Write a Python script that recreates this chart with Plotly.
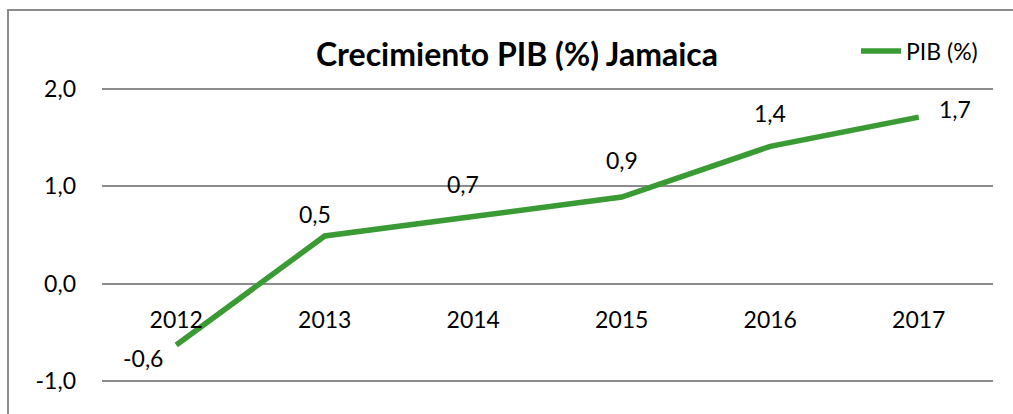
import plotly.graph_objects as go

years = ["2012", "2013", "2014", "2015", "2016", "2017"]
pib = [-0.63, 0.49, 0.69, 0.89, 1.41, 1.71]
labels = ["-0,6", "0,5", "0,7", "0,9", "1,4", "1,7"]
y_ticks = [-1, 0, 1, 2]
y_tick_text = ["-1,0", "0,0", "1,0", "2,0"]

GREEN = "#3A9A34"
GRAY = "#8C8C8C"
FONT = "Lato, Carlito, Calibri, sans-serif"

fig = go.Figure()
fig.add_trace(go.Scatter(x=years, y=pib, mode="lines", name="PIB (%)",
                         line=dict(color=GREEN, width=5.5), cliponaxis=False))

# data label offsets (px), mimicking Excel placement
offs = [(-33, -13), (-10, 22), (-10, 32), (0, 37), (0, 33), (36, 8)]
for i, (v, t, (dx, dy)) in enumerate(zip(pib, labels, offs)):
    fig.add_annotation(x=i, y=v, xref="x", yref="y", text=t, showarrow=False,
                       xshift=dx, yshift=dy,
                       font=dict(family=FONT, size=23, color="#000"))

fig.update_layout(
    width=1013, height=414,
    margin=dict(l=102, r=20, t=84, b=28),
    paper_bgcolor="white", plot_bgcolor="white",
    separators=",.",
    title=dict(text="<b>Crecimiento PIB (%) Jamaica</b>", x=517/1013, xanchor="center",
               y=1 - 55/414, yanchor="middle",
               font=dict(family=FONT, size=32, color="#000")),
    showlegend=True,
    legend=dict(x=(856 - 102) / 891, xanchor="left", y=1 + (84 - 51) / 302, yanchor="middle",
                font=dict(family=FONT, size=23, color="#000"), bgcolor="rgba(0,0,0,0)",
                itemwidth=40),
    font=dict(family=FONT, color="#000"),
)
fig.update_yaxes(range=[-1.05, 2.05], tickvals=y_ticks, ticktext=y_tick_text,
                 showgrid=True, gridcolor=GRAY, gridwidth=1.5, zeroline=False,
                 showline=False, ticks="", ticklabelstandoff=25,
                 tickfont=dict(family=FONT, size=23, color="#000"))
fig.update_xaxes(type="category", range=[-0.5, 5.5], showgrid=False, zeroline=False,
                 showline=False, ticks="", anchor="free", position=1.05 / 3.1,
                 ticklabelstandoff=20,
                 tickfont=dict(family=FONT, size=23, color="#000"))

fig.add_shape(type="rect", xref="paper", yref="paper",
              x0=(8 - 102) / 891, x1=1.2, y0=-0.3, y1=1 + (84 - 10) / 302,
              line=dict(color=GRAY, width=2), fillcolor="rgba(0,0,0,0)", layer="below")

fig.write_html("out.html", config={"displayModeBar": False},
               post_script="document.body.style.margin='0';")
